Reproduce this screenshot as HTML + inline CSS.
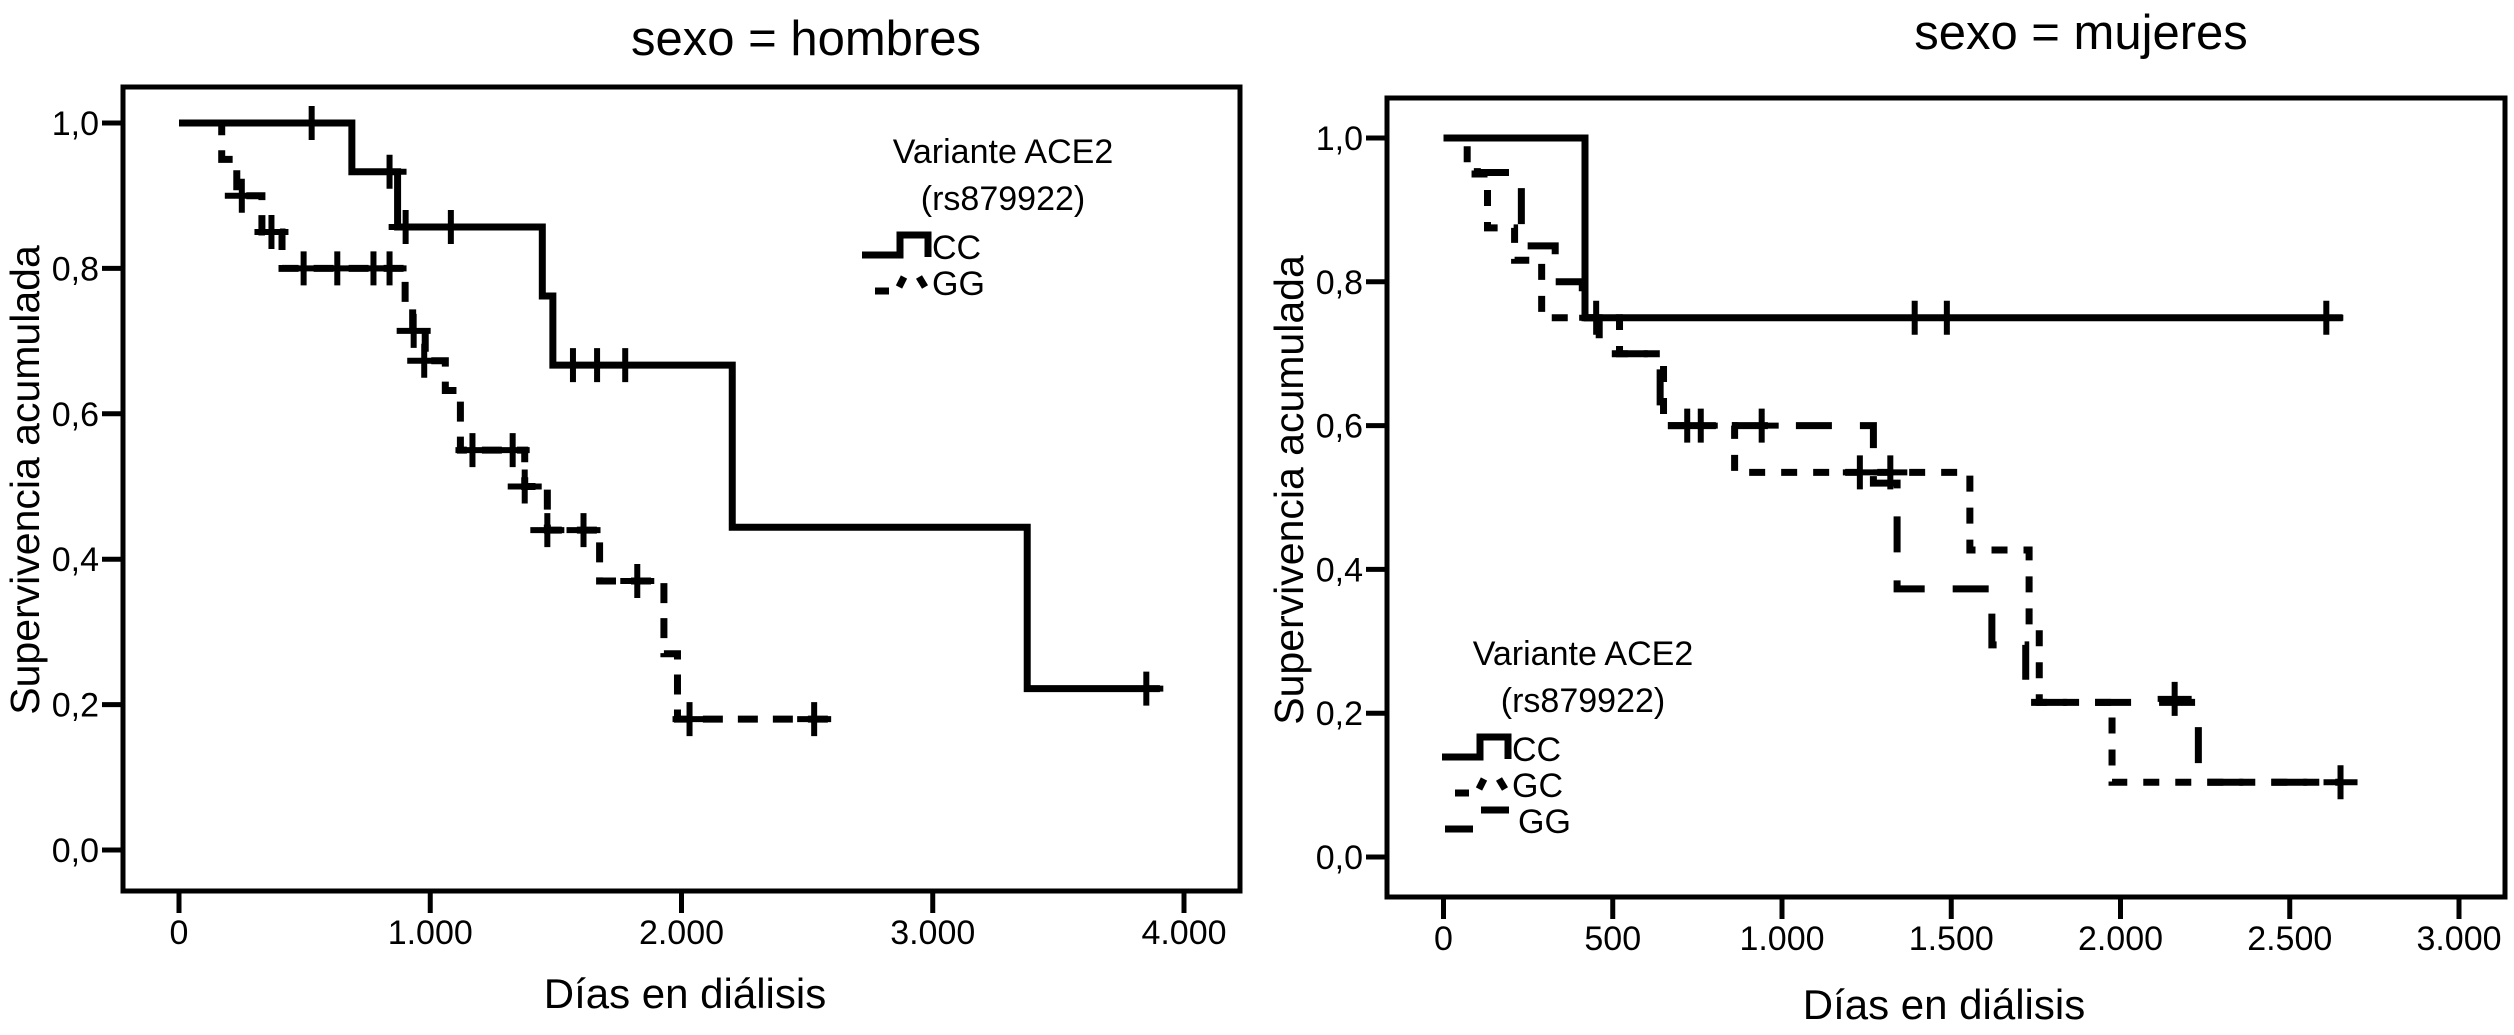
<!DOCTYPE html>
<html><head><meta charset="utf-8">
<style>
html,body{margin:0;padding:0;background:#fff;}
svg{display:block;font-family:"Liberation Sans",Arial,sans-serif;}
</style></head>
<body>
<svg id="chart" width="2514" height="1035" viewBox="0 0 2514 1035" xmlns="http://www.w3.org/2000/svg">
<g id="left"></g>
<g id="right"></g>
</svg>
<script>
// ---- Left panel data (hombres) ----
const leftXTicks = [0, 1000, 2000, 3000, 4000];
const leftXTickLabels = ["0", "1.000", "2.000", "3.000", "4.000"];
const yTicks = [0, 0.2, 0.4, 0.6, 0.8, 1.0];
const yTickLabels = ["0,0", "0,2", "0,4", "0,6", "0,8", "1,0"];
const hCCTimes = [0, 688, 870, 1446, 1488, 2202, 3376];
const hCCSurv = [1.0, 0.933, 0.857, 0.762, 0.667, 0.444, 0.222];
const hCCEnd = 3904;
const hCCCensorT = [528, 838, 902, 1082, 1568, 1664, 1776, 3850];
const hCCCensorS = [1.0, 0.933, 0.857, 0.857, 0.667, 0.667, 0.667, 0.222];
const hGGTimes = [0, 170, 230, 330, 410, 900, 930, 980, 1060, 1120, 1376, 1466, 1674, 1930, 1984];
const hGGSurv = [1.0, 0.95, 0.9, 0.85, 0.8, 0.75, 0.714, 0.673, 0.632, 0.55, 0.5, 0.44, 0.37, 0.27, 0.18];
const hGGEnd = 2590;
const hGGCensorT = [250, 368, 496, 630, 774, 838, 934, 976, 1168, 1328, 1376, 1466, 1610, 1824, 2032, 2528];
const hGGCensorS = [0.9, 0.85, 0.8, 0.8, 0.8, 0.8, 0.714, 0.673, 0.55, 0.55, 0.5, 0.44, 0.44, 0.37, 0.18, 0.18];
// ---- Right panel data (mujeres) ----
const rightXTicks = [0, 500, 1000, 1500, 2000, 2500, 3000];
const rightXTickLabels = ["0", "500", "1.000", "1.500", "2.000", "2.500", "3.000"];
const mCCTimes = [0, 418];
const mCCSurv = [1.0, 0.75];
const mCCEnd = 2656;
const mCCCensorT = [451, 1392, 1487, 2608];
const mCCCensorS = [0.75, 0.75, 0.75, 0.75];
const mGCTimes = [0, 70, 130, 210, 290, 520, 650, 860, 1555, 1730, 1760, 1975];
const mGCSurv = [1.0, 0.95, 0.875, 0.83, 0.75, 0.7, 0.6, 0.535, 0.427, 0.32, 0.215, 0.104];
const mGCEnd = 2650;
const mGCCensorT = [720, 1230, 1320, 2650];
const mGCCensorS = [0.6, 0.535, 0.535, 0.104];
const mGGTimes = [0, 100, 230, 330, 410, 460, 640, 1270, 1340, 1620, 1720, 2230];
const mGGSurv = [1.0, 0.952, 0.85, 0.8, 0.75, 0.7, 0.6, 0.52, 0.373, 0.295, 0.215, 0.104];
const mGGEnd = 2600;
const mGGCensorT = [760, 940, 2160];
const mGGCensorS = [0.6, 0.6, 0.22];

const NS = "http://www.w3.org/2000/svg";
function el(parent, tag, attrs, text) {
  const e = document.createElementNS(NS, tag);
  for (const k in attrs) e.setAttribute(k, attrs[k]);
  if (text !== undefined) e.textContent = text;
  parent.appendChild(e);
  return e;
}
function stepPath(times, surv, end, sx, sy) {
  let d = "M" + sx(times[0]) + "," + sy(surv[0]);
  for (let i = 1; i < times.length; i++) {
    d += " H" + sx(times[i]) + " V" + sy(surv[i]);
  }
  d += " H" + sx(end);
  return d;
}
function drawSeries(g, name, times, surv, end, cT, cS, sx, sy, dash) {
  const p = el(g, "path", {d: stepPath(times, surv, end, sx, sy), fill: "none", stroke: "#000", "stroke-width": 7, "stroke-dasharray": dash});
  
  
  for (let i = 0; i < cT.length; i++) {
    const x = sx(cT[i]), y = sy(cS[i]);
    const c = el(g, "path", {d: "M" + (x - 17) + "," + y + " H" + (x + 17) + " M" + x + "," + (y - 17) + " V" + (y + 17), stroke: "#000", "stroke-width": 6, fill: "none"});
    
    
  }
}
function drawPanel(g, cfg) {
  const sx = v => cfg.x0 + (v - cfg.xmin) / (cfg.xmax - cfg.xmin) * (cfg.x1 - cfg.x0);
  const sy = v => cfg.y0 + v * (cfg.y1 - cfg.y0);
  const f = el(g, "rect", {x: cfg.fl, y: cfg.ft, width: cfg.fr - cfg.fl, height: cfg.fb - cfg.ft, fill: "none", stroke: "#000", "stroke-width": 5});
  
  
  const t = el(g, "text", {x: cfg.titleX, y: cfg.titleY, "font-size": 49, "text-anchor": "middle"}, cfg.title);
  
  
  yTicks.forEach((v, i) => {
    const y = sy(v);
    const tk = el(g, "line", {x1: cfg.fl - 21, x2: cfg.fl, y1: y, y2: y, stroke: "#000", "stroke-width": 5});
    
    
    const lb = el(g, "text", {x: cfg.fl - 24, y: y + 12, "font-size": 34, "text-anchor": "end"}, yTickLabels[i]);
    
    
  });
  cfg.xTicks.forEach((v, i) => {
    const x = sx(v);
    const tk = el(g, "line", {x1: x, x2: x, y1: cfg.fb, y2: cfg.fb + 22, stroke: "#000", "stroke-width": 5});
    
    
    const lb = el(g, "text", {x: x, y: cfg.fb + 53, "font-size": 34, "text-anchor": "middle"}, cfg.xLabels[i]);
    
    
  });
  const xt = el(g, "text", {x: cfg.xtX, y: cfg.xtY, "font-size": 42, "text-anchor": "middle"}, "Días en diálisis");
  
  
  const yt = el(g, "text", {x: 0, y: 0, "font-size": 41, "text-anchor": "middle", transform: "translate(" + cfg.ytX + "," + cfg.ytY + ") rotate(-90)"}, "Supervivencia acumulada");
  
  
  return {sx, sy};
}

// Left
const gl = document.getElementById("left");
const L = drawPanel(gl, {fl: 123, ft: 87, fr: 1240, fb: 891, x0: 179, x1: 1184, xmin: 0, xmax: 4000, y0: 850, y1: 123,
  xTicks: leftXTicks, xLabels: leftXTickLabels, title: "sexo = hombres", titleX: 806, titleY: 55,
  xtX: 685, xtY: 1008, ytX: 39, ytY: 480});
drawSeries(gl, "hombres-cc", hCCTimes, hCCSurv, hCCEnd, hCCCensorT, hCCCensorS, L.sx, L.sy, "none");
drawSeries(gl, "hombres-gg", hGGTimes, hGGSurv, hGGEnd, hGGCensorT, hGGCensorS, L.sx, L.sy, "20 15");

// Right
const gr = document.getElementById("right");
const R = drawPanel(gr, {fl: 1387, ft: 98, fr: 2505, fb: 897, x0: 1443.5, x1: 2459, xmin: 0, xmax: 3000, y0: 857, y1: 138,
  xTicks: rightXTicks, xLabels: rightXTickLabels, title: "sexo = mujeres", titleX: 2081, titleY: 49,
  xtX: 1944, xtY: 1019, ytX: 1303, ytY: 490});
drawSeries(gr, "mujeres-cc", mCCTimes, mCCSurv, mCCEnd, mCCCensorT, mCCCensorS, R.sx, R.sy, "none");
drawSeries(gr, "mujeres-gc", mGCTimes, mGCSurv, mGCEnd, mGCCensorT, mGCCensorS, R.sx, R.sy, "16 16");
drawSeries(gr, "mujeres-gg", mGGTimes, mGGSurv, mGGEnd, mGGCensorT, mGGCensorS, R.sx, R.sy, "36 28");

// Legends
function legend(g, lx, ly, entries) {
  const lg = el(g, "g", {});
  
  
  const a = el(lg, "text", {x: lx + 108, y: ly, "font-size": 34, "text-anchor": "middle"}, "Variante ACE2");
  
  
  const b = el(lg, "text", {x: lx + 108, y: ly + 47, "font-size": 34, "text-anchor": "middle"}, "(rs879922)");
  
  
  entries.forEach((e, i) => {
    const y = ly + 92 + i * 36;
    const gx = lx - 33;
    let d;
    if (e.k === "solid") d = "M" + gx + "," + y + " H" + (gx + 38) + " V" + (y - 20) + " H" + (gx + 66) + " V" + (y + 2);
    else if (e.k === "short") d = "M" + (gx + 13) + "," + y + " H" + (gx + 27) + " M" + (gx + 37) + "," + (y - 4) + " L" + (gx + 42) + "," + (y - 14) + " M" + (gx + 57) + "," + (y - 14) + " L" + (gx + 63) + "," + (y - 4);
    else d = "M" + (gx + 3) + "," + y + " H" + (gx + 31) + " M" + (gx + 39) + "," + (y - 19) + " H" + (gx + 67);
    const p = el(lg, "path", {d: d, stroke: "#000", "stroke-width": 7, fill: "none"});
    
    
    const t = el(lg, "text", {x: lx + 37 + (e.k === "long" ? 6 : 0), y: y + 4, "font-size": 34}, e.label);
    
    
  });
}
legend(gl, 895, 163, [{k: "solid", label: "CC"}, {k: "short", label: "GG"}]);
legend(gr, 1475, 665, [{k: "solid", label: "CC"}, {k: "short", label: "GC"}, {k: "long", label: "GG"}]);
</script>
</body></html>
